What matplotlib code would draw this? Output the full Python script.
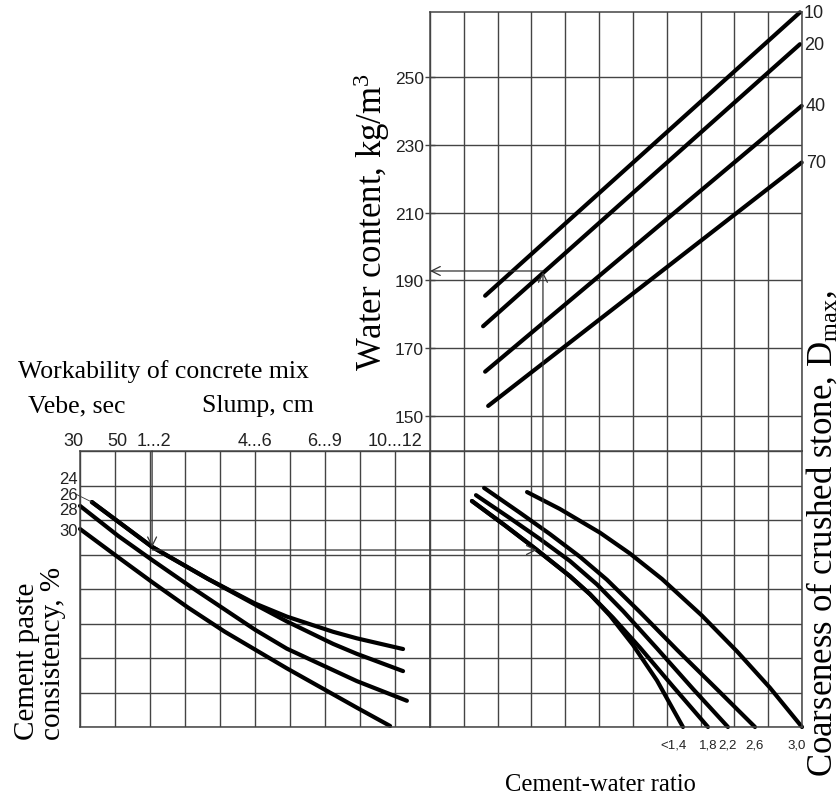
import matplotlib.pyplot as plt
from matplotlib.patches import ConnectionPatch

plt.rcParams['mathtext.fontset'] = 'custom'
plt.rcParams['mathtext.rm'] = 'Liberation Serif'
plt.rcParams['mathtext.it'] = 'Liberation Serif:italic'

SERIF = 'Liberation Serif'
SANS = 'Liberation Sans'
W, H = 839, 803

# ---- lower left: workability -> cement paste consistency (grid cell units)
work_ticks = [-0.2, 1.06, 2.1, 5.0, 7.0, 9.0]
work_labels = ['30', '50', '1...2', '4...6', '6...9', '10...12']
cons_labels = ['24', '26', '28', '30']
cons_rows = [7.19, 6.75, 6.29, 5.71]

cons_x = [
    [0.34, 2.06, 3.66, 5.0, 5.91, 7.23, 7.91, 9.23],
    [0.34, 2.06, 3.66, 5.0, 5.91, 7.23, 7.91, 9.23],
    [0.0, 1.09, 2.06, 3.2, 5.0, 5.91, 7.91, 9.34],
    [0.0, 1.09, 2.06, 3.09, 4.14, 5.91, 7.91, 8.86],
]
cons_y = [
    [6.52, 5.22, 4.29, 3.58, 3.20, 2.76, 2.57, 2.26],
    [6.52, 5.22, 4.29, 3.55, 3.06, 2.41, 2.12, 1.62],
    [6.41, 5.54, 4.84, 4.04, 2.82, 2.27, 1.33, 0.76],
    [5.74, 4.92, 4.20, 3.46, 2.76, 1.70, 0.56, 0.03],
]

# ---- lower right: consistency -> cement-water ratio
cw_labels = ['<1,4', '1,8', '2,2', '2,6', '3,0']
cw_x = [
    [1.24, 2.22, 3.10, 4.14, 4.73, 5.32, 6.00, 6.71, 7.48],
    [1.24, 2.22, 3.10, 4.14, 4.73, 5.41, 6.21, 7.18, 8.22],
    [1.36, 2.37, 3.25, 4.14, 4.94, 5.71, 6.71, 7.78, 8.81],
    [1.60, 2.66, 3.55, 4.44, 5.23, 6.21, 7.30, 8.49, 9.61],
    [2.87, 3.84, 5.03, 5.91, 6.86, 8.04, 9.08, 10.05, 11.0],
]
cw_y = [
    [6.55, 5.84, 5.18, 4.37, 3.85, 3.23, 2.38, 1.35, 0.0],
    [6.55, 5.84, 5.18, 4.37, 3.85, 3.17, 2.30, 1.18, 0.0],
    [6.72, 6.05, 5.45, 4.81, 4.13, 3.36, 2.28, 1.10, 0.0],
    [6.93, 6.21, 5.59, 4.93, 4.27, 3.33, 2.24, 1.09, 0.0],
    [6.81, 6.32, 5.63, 5.03, 4.29, 3.23, 2.19, 1.14, 0.0],
]
cw_align = ['right', 'center', 'center', 'center', 'right']

# ---- upper: water content vs Dmax
water_ticks = [150, 170, 190, 210, 230, 250]
dmax_labels = ['10', '20', '40', '70']
dmax_x0 = [1.63, 1.57, 1.63, 1.72]
dmax_w0 = [185.5, 176.5, 163.1, 153.0]
dmax_x1 = [10.94, 10.94, 10.99, 10.99]
dmax_w1 = [269.1, 259.7, 241.5, 224.8]

# ---- worked example path
ex_work_col = 2.06
ex_cons_row = 5.13
ex_hit_col = 3.16
ex_cw_col = 3.34
ex_water = 192.8


def rect(l, t, r, b):
    return [l / W, 1 - b / H, (r - l) / W, (b - t) / H]


def fx(x):
    return x / W


def fy(y):
    return 1 - y / H


fig = plt.figure(figsize=(W / 100, H / 100), dpi=100)
ax_ll = fig.add_axes(rect(80, 452, 430, 728))
ax_lr = fig.add_axes(rect(430, 452, 802, 728))
ax_up = fig.add_axes(rect(430, 13, 802, 452))

gcol = '#444444'
for ax in (ax_ll, ax_lr, ax_up):
    for s in ax.spines.values():
        s.set_color(gcol)
        s.set_linewidth(1.1)
    ax.grid(True, color=gcol, lw=1.0)
    ax.set_axisbelow(True)

ax_ll.set_xlim(0, 10)
ax_ll.set_ylim(0, 8)
ax_ll.set_xticks(range(11))
ax_ll.set_yticks(range(9))
ax_ll.tick_params(length=0, labelleft=False, labelbottom=False)

ax_lr.set_xlim(0, 11)
ax_lr.set_ylim(0, 8)
ax_lr.set_xticks(range(12))
ax_lr.set_yticks(range(9))
ax_lr.tick_params(length=0, labelleft=False, labelbottom=False)

ax_up.set_xlim(0, 11)
ax_up.set_ylim(139.7, 269.2)
ax_up.set_xticks(range(12))
ax_up.set_yticks(water_ticks)
ax_up.tick_params(axis='x', length=0, labelbottom=False)
ax_up.tick_params(axis='y', direction='inout', length=7, width=1, color=gcol,
                  labelsize=12.5, labelcolor='#222222', pad=1)
for t in ax_up.get_yticklabels():
    t.set_fontfamily(SANS)

# curves
for xs, ys in zip(cons_x, cons_y):
    ax_ll.plot(xs, ys, color='black', lw=3.0, solid_capstyle='round',
               solid_joinstyle='round', clip_on=False)
for xs, ys in zip(cw_x, cw_y):
    ax_lr.plot(xs, ys, color='black', lw=3.0, solid_capstyle='round',
               solid_joinstyle='round', clip_on=False)
for i in range(len(dmax_labels)):
    ax_up.plot([dmax_x0[i], dmax_x1[i]], [dmax_w0[i], dmax_w1[i]], color='black', lw=3.0,
               solid_capstyle='round', clip_on=False)
    ax_up.text(dmax_x1[i] + 0.12, dmax_w1[i], dmax_labels[i], ha='left', va='center',
               fontsize=13, family=SANS, color='#222222')

# top labels of lower left panel
for c, lab in zip(work_ticks, work_labels):
    ax_ll.text(c, 8.3, lab, ha='center', va='center', fontsize=13, family=SANS, color='#222222')
for r, lab in zip(cons_rows, cons_labels):
    ax_ll.text(-0.06, r, lab, ha='right', va='center', fontsize=12, family=SANS,
               color='#222222')
ax_ll.plot([-0.12, cons_x[0][0]], [cons_rows[1], cons_y[0][0]], color='#333333', lw=0.6,
           clip_on=False)

# bottom labels of lower right panel
for xs, lab, al in zip(cw_x, cw_labels, cw_align):
    dx = 0.1 if al == 'right' else 0
    ax_lr.text(xs[-1] + dx, -0.5, lab, ha=al, va='center', fontsize=9.5, family=SANS,
               color='#222222')

# worked example arrows
ap = dict(arrowstyle='->', lw=0.9, color='#333333', shrinkA=0, shrinkB=0, mutation_scale=16)
ax_ll.annotate('', xy=(ex_work_col, ex_cons_row + 0.08), xytext=(ex_work_col, 8),
               arrowprops=ap)
fig.add_artist(ConnectionPatch(xyA=(ex_work_col, ex_cons_row), coordsA=ax_ll.transData,
                               xyB=(ex_hit_col, ex_cons_row), coordsB=ax_lr.transData, **ap))
fig.add_artist(ConnectionPatch(xyA=(ex_cw_col, ex_cons_row), coordsA=ax_lr.transData,
                               xyB=(ex_cw_col, ex_water - 0.3), coordsB=ax_up.transData, **ap))
ax_up.annotate('', xy=(0, ex_water), xytext=(ex_cw_col, ex_water), arrowprops=ap,
               annotation_clip=False)

# titles
fig.text(fx(18), fy(372), 'Workability of concrete mix', ha='left', va='center',
         fontsize=18.5, family=SERIF)
fig.text(fx(28), fy(406), 'Vebe, sec', ha='left', va='center', fontsize=18.5, family=SERIF)
fig.text(fx(202), fy(406), 'Slump, cm', ha='left', va='center', fontsize=18.5, family=SERIF)
fig.text(fx(40), fy(740), 'Cement paste\nconsistency, %', rotation=90, ha='center',
         va='bottom', fontsize=21, family=SERIF, linespacing=1.0, multialignment='left')
fig.text(fx(372), fy(222), 'Water content, kg/m$^3$', rotation=90, ha='center', va='center',
         fontsize=25, family=SERIF)
fig.text(fx(822), fy(777), 'Coarseness of crushed stone, D$_{\\mathrm{max}}$,', rotation=90,
         ha='center', va='bottom', fontsize=25, family=SERIF)
fig.text(fx(600), fy(785), 'Cement-water ratio', ha='center', va='center', fontsize=17.7,
         family=SERIF)

fig.savefig('out.png', dpi=100)
